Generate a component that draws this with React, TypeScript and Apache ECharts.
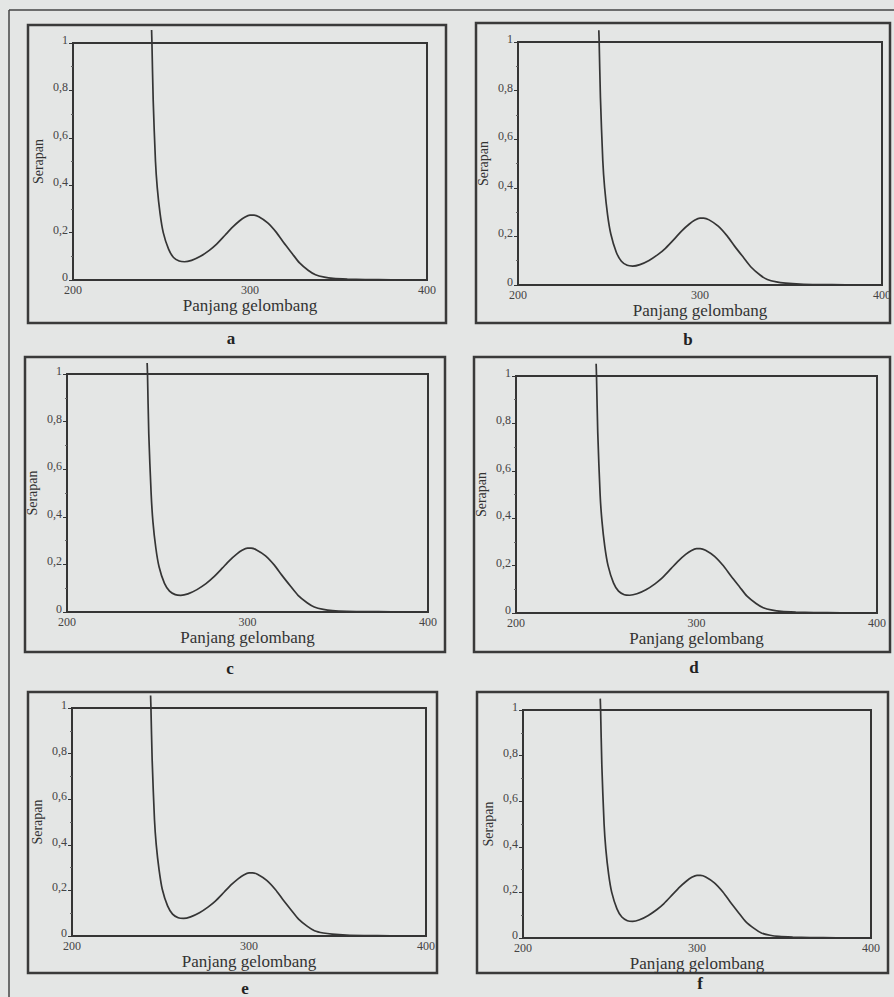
import React, { useEffect, useRef } from "react";
import * as echarts from "echarts";

// ---------- data ----------
const wavelengths = [
  244.4, 244.6, 245.3, 246.6, 247.6, 249.2, 251, 254, 256.8, 260, 263, 267, 272, 277, 281, 286, 290,
  294, 297, 300, 302, 305, 310, 315, 319, 324, 328, 333, 337, 342, 347, 355, 365, 380, 400,
];

const absorbanceA = [
  1.055, 1.0, 0.76, 0.5, 0.39, 0.28, 0.2, 0.13, 0.095, 0.08, 0.077, 0.083, 0.1, 0.125, 0.15, 0.19, 0.222,
  0.249, 0.265, 0.274, 0.274, 0.267, 0.241, 0.2, 0.158, 0.11, 0.072, 0.04, 0.022, 0.012, 0.007, 0.004, 0.002, 0.001, 0,
];
const absorbanceB = [
  1.048, 1.0, 0.77, 0.51, 0.4, 0.29, 0.21, 0.135, 0.098, 0.081, 0.078, 0.084, 0.101, 0.126, 0.151, 0.19, 0.223,
  0.25, 0.266, 0.275, 0.275, 0.268, 0.242, 0.201, 0.16, 0.112, 0.074, 0.041, 0.023, 0.013, 0.008, 0.004, 0.002, 0.001, 0,
];
const absorbanceC = [
  1.046, 1.0, 0.75, 0.5, 0.38, 0.27, 0.19, 0.12, 0.088, 0.073, 0.07, 0.076, 0.094, 0.119, 0.145, 0.184, 0.216,
  0.243, 0.259, 0.268, 0.268, 0.261, 0.236, 0.196, 0.155, 0.107, 0.07, 0.039, 0.021, 0.011, 0.006, 0.003, 0.002, 0.001, 0,
];
const absorbanceD = [
  1.052, 1.0, 0.76, 0.5, 0.39, 0.28, 0.2, 0.127, 0.092, 0.077, 0.075, 0.081, 0.098, 0.123, 0.148, 0.188, 0.22,
  0.247, 0.263, 0.272, 0.272, 0.265, 0.239, 0.198, 0.157, 0.109, 0.071, 0.04, 0.022, 0.012, 0.007, 0.004, 0.002, 0.001, 0,
];
const absorbanceE = [
  1.055, 1.0, 0.77, 0.51, 0.4, 0.29, 0.205, 0.132, 0.096, 0.08, 0.077, 0.084, 0.102, 0.128, 0.153, 0.193, 0.225,
  0.252, 0.268, 0.277, 0.277, 0.27, 0.244, 0.203, 0.161, 0.112, 0.074, 0.042, 0.023, 0.013, 0.008, 0.004, 0.002, 0.001, 0,
];
const absorbanceF = [
  1.05, 1.0, 0.76, 0.5, 0.39, 0.28, 0.2, 0.128, 0.092, 0.076, 0.073, 0.08, 0.099, 0.125, 0.151, 0.191, 0.223,
  0.25, 0.266, 0.275, 0.275, 0.268, 0.242, 0.201, 0.159, 0.11, 0.072, 0.041, 0.022, 0.012, 0.007, 0.004, 0.002, 0.001, 0,
];

const seriesValues = [absorbanceA, absorbanceB, absorbanceC, absorbanceD, absorbanceE, absorbanceF];
const panelLetters = ["a", "b", "c", "d", "e", "f"];
const xTickValues = [200, 300, 400];
const yTickValues = [0, 0.2, 0.4, 0.6, 0.8, 1];
const xAxisTitle = "Panjang gelombang";
const yAxisTitle = "Serapan";

// ---------- layout ----------
const layout = [
  { grid: [73, 43, 354, 237], box: [28, 25, 418, 298], letter: [231, 338] },
  { grid: [518, 42, 364, 243], box: [476, 23, 414, 300], letter: [688, 339] },
  { grid: [67, 374, 361, 238], box: [25, 357, 420, 295], letter: [230, 668] },
  { grid: [516, 376, 361, 237], box: [474, 357, 416, 295], letter: [694, 667] },
  { grid: [72, 708, 354, 228], box: [28, 692, 409, 281], letter: [245, 988] },
  { grid: [523, 710, 348, 228], box: [477, 692, 411, 281], letter: [700, 983] },
];

const INK = "#353535";
const FONT = "Liberation Serif";

function fmtY(v: number) {
  if (Math.abs(v) < 1e-9) return "0";
  if (Math.abs(v - 1) < 1e-9) return "1";
  return v.toFixed(1).replace(".", ",");
}

export default function App() {
  const ref = useRef<HTMLDivElement>(null);
  useEffect(() => {
    if (!ref.current) return;
    const chart = echarts.init(ref.current, undefined, { renderer: "svg" });

    const grids = layout.map((p) => ({
      left: p.grid[0],
      top: p.grid[1],
      width: p.grid[2],
      height: p.grid[3],
      show: true,
      borderColor: INK,
      borderWidth: 2,
      backgroundColor: "transparent",
    }));

    const xAxes = layout.map((_, i) => ({
      type: "value",
      gridIndex: i,
      min: xTickValues[0],
      max: xTickValues[xTickValues.length - 1],
      interval: xTickValues[1] - xTickValues[0],
      axisLine: { show: true, lineStyle: { color: INK, width: 2 } },
      axisTick: { show: false },
      splitLine: { show: false },
      axisLabel: { color: "#444", fontFamily: FONT, fontSize: 12, margin: 4 },
      name: xAxisTitle,
      nameLocation: "middle",
      nameGap: 17,
      nameTextStyle: { color: "#333", fontFamily: FONT, fontSize: 17 },
    }));

    const yAxes = layout.map((_, i) => ({
      type: "value",
      gridIndex: i,
      min: yTickValues[0],
      max: yTickValues[yTickValues.length - 1],
      interval: yTickValues[1] - yTickValues[0],
      axisLine: { show: true, lineStyle: { color: INK, width: 2 } },
      axisTick: { show: true, length: 4, lineStyle: { color: INK, width: 1 } },
      minorTick: { show: true, splitNumber: 2, length: 2, lineStyle: { color: "#666", width: 1 } },
      splitLine: { show: false },
      axisLabel: {
        color: "#444",
        fontFamily: FONT,
        fontSize: 12,
        margin: 5,
        verticalAlign: "bottom",
        lineHeight: 6,
        formatter: fmtY,
      },
      name: yAxisTitle,
      nameLocation: "middle",
      nameGap: 28,
      nameRotate: 90,
      nameTextStyle: { color: "#333", fontFamily: FONT, fontSize: 14 },
    }));

    const series = seriesValues.map((vals, i) => ({
      type: "line",
      name: panelLetters[i],
      xAxisIndex: i,
      yAxisIndex: i,
      data: wavelengths.map((w, k) => [w, vals[k]]),
      showSymbol: false,
      smooth: 0.25,
      clip: false,
      lineStyle: { color: INK, width: 1.7 },
    }));

    const graphics: any[] = [
      { type: "line", shape: { x1: 9, y1: 10, x2: 894, y2: 10 }, style: { stroke: "#444", lineWidth: 1.5 } },
      { type: "line", shape: { x1: 9, y1: 10, x2: 9, y2: 997 }, style: { stroke: "#444", lineWidth: 1.5 } },
    ];
    layout.forEach((p, i) => {
      graphics.push({
        type: "rect",
        shape: { x: p.box[0], y: p.box[1], width: p.box[2], height: p.box[3] },
        style: { fill: "none", stroke: "#3a3a3a", lineWidth: 2.5 },
      });
      graphics.push({
        type: "text",
        x: p.letter[0],
        y: p.letter[1],
        style: {
          text: panelLetters[i],
          fill: "#222",
          font: `bold 17px "${FONT}", serif`,
          textAlign: "center",
          textVerticalAlign: "middle",
        },
      });
    });

    chart.setOption({
      animation: false,
      backgroundColor: "#e4e6e5",
      textStyle: { fontFamily: FONT },
      grid: grids,
      xAxis: xAxes,
      yAxis: yAxes,
      series,
      graphic: graphics,
    });
    return () => chart.dispose();
  }, []);
  return (
    <div
      ref={ref}
      style={{ position: "absolute", left: 0, top: 0, width: 894, height: 997 }}
    />
  );
}
